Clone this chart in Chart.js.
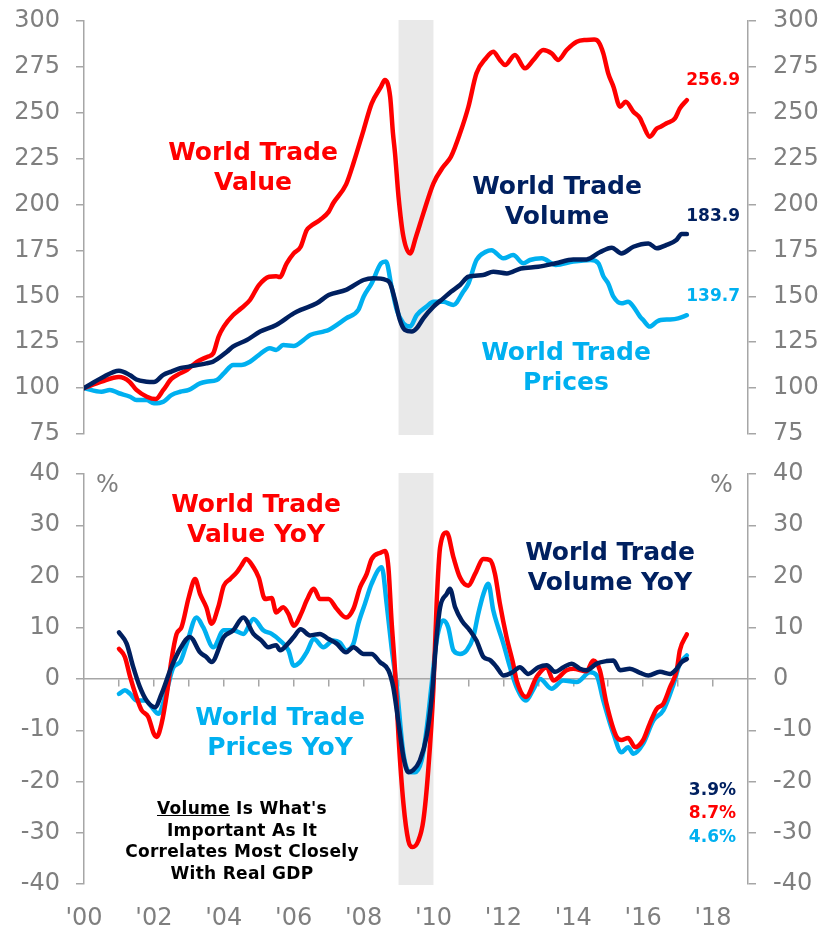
<!DOCTYPE html>
<html>
<head>
<meta charset="utf-8">
<script src="https://cdn.jsdelivr.net/npm/chart.js@4.4.1/dist/chart.umd.min.js"></script>
<style>
  html, body { margin: 0; padding: 0; background: #fff; }
  #wrap { position: relative; width: 825px; height: 930px; font-family: "DejaVu Sans", Verdana, sans-serif; }
  canvas { position: absolute; left: 0; }
  #topChart { top: 0; }
  #botChart { top: 450px; }
  .lbl { position: absolute; font-weight: bold; text-align: center; white-space: nowrap; transform: translateX(-50%); font-size: 25px; line-height: 30px; }
  .num { position: absolute; font-weight: bold; text-align: right; white-space: nowrap; font-size: 17px; line-height: 20px; }
  .pct { position: absolute; color: #7f7f7f; font-size: 24px; line-height: 28px; }
  .note { position: absolute; font-weight: bold; text-align: center; white-space: nowrap; transform: translateX(-50%); font-size: 17px; line-height: 21.7px; letter-spacing: 0.3px; color: #000; }
</style>
</head>
<body>
<div id="wrap">
  <canvas id="topChart" width="825" height="450"></canvas>
  <canvas id="botChart" width="825" height="480"></canvas>

  <div class="lbl" style="left:253px;top:137px;color:#ff0000">World Trade<br>Value</div>
  <div class="lbl" style="left:557px;top:171px;color:#002060">World Trade<br>Volume</div>
  <div class="lbl" style="left:566px;top:337px;color:#00b0f0">World Trade<br>Prices</div>
  <div class="num" style="right:85px;top:69px;color:#ff0000">256.9</div>
  <div class="num" style="right:85px;top:205px;color:#002060">183.9</div>
  <div class="num" style="right:85px;top:285px;color:#00b0f0">139.7</div>

  <div class="pct" style="left:96px;top:470px">%</div>
  <div class="pct" style="left:710px;top:470px">%</div>
  <div class="lbl" style="left:256px;top:489px;color:#ff0000">World Trade<br>Value YoY</div>
  <div class="lbl" style="left:610px;top:537px;color:#002060">World Trade<br>Volume YoY</div>
  <div class="lbl" style="left:280px;top:702px;color:#00b0f0">World Trade<br>Prices YoY</div>
  <div class="num" style="right:89px;top:779px;color:#002060">3.9%</div>
  <div class="num" style="right:89px;top:802px;color:#ff0000">8.7%</div>
  <div class="num" style="right:89px;top:826px;color:#00b0f0">4.6%</div>
  <div class="note" style="left:242px;top:798px"><u>Volume</u> Is What's<br>Important As It<br>Correlates Most Closely<br>With Real GDP</div>
</div>

<script>
const RED = "#ff0000";
const NAVY = "#002060";
const LBLUE = "#00b0f0";
const GREY = "#7f7f7f";
const AXIS = "#a6a6a6";

Chart.defaults.font.family = '"DejaVu Sans", Verdana, sans-serif';

// x axis (decimal years)
const xMin = 2000;
const xMax = 2019;
const recession = [2009, 2010];
const labelYears = [2000, 2002, 2004, 2006, 2008, 2010, 2012, 2014, 2016, 2018];
const yearTicks = [2001, 2002, 2003, 2004, 2005, 2006, 2007, 2008, 2009, 2010, 2011, 2012, 2013, 2014, 2015, 2016, 2017, 2018];
const levelTicks = [75, 100, 125, 150, 175, 200, 225, 250, 275, 300];
const yoyTicks = [-40, -30, -20, -10, 0, 10, 20, 30, 40];

// index levels, Jan 2000 = 100  [year, value]
const valueLevel = [
  [2000.0,100],[2000.5,103.5],[2001.0,106],[2001.3,103.5],[2001.5,99],[2001.8,95.3],[2002.05,94],[2002.27,99],
  [2002.5,105],[2002.75,108],[2002.95,110],[2003.23,114.3],[2003.52,117],[2003.7,119],[2003.85,128],[2004.0,133.5],
  [2004.27,139.8],[2004.5,143.5],[2004.75,148],[2005.0,156],[2005.3,160.7],[2005.5,161],[2005.6,160.5],[2005.8,168],
  [2006.0,173.4],[2006.2,177],[2006.37,186],[2006.47,188],[2006.75,191.6],[2007.0,196],[2007.13,200.7],[2007.5,211],
  [2007.71,222.5],[2008.0,240.6],[2008.23,255],[2008.5,264.2],[2008.61,267.9],[2008.76,258.8],[2008.84,239],[2008.9,227.9],
  [2009.0,204.3],[2009.14,182.5],[2009.33,173.4],[2009.5,182.5],[2009.71,195.2],[2010.0,211.6],[2010.28,220.6],[2010.5,226],
  [2010.76,238.8],[2011.0,253.3],[2011.23,271.5],[2011.5,279.7],[2011.71,283.3],[2011.9,278.8],[2012.05,276],[2012.33,281.5],
  [2012.62,274.2],[2012.86,278.8],[2013.14,284.2],[2013.38,282.4],[2013.57,278.8],[2013.81,284.2],[2014.1,288.7],[2014.38,289.7],
  [2014.6,289.9],[2014.72,288.7],[2014.86,282.4],[2015.0,271.5],[2015.15,264.2],[2015.34,253.3],[2015.5,256],[2015.72,250.6],
  [2015.91,247],[2016.0,243.3],[2016.19,237],[2016.39,241.5],[2016.5,242.4],[2016.67,244.3],[2016.91,247],[2017.05,252.4],
  [2017.25,256.9]
];
const volumeLevel = [
  [2000.0,100],[2000.5,105.5],[2001.0,109.5],[2001.32,107],[2001.5,104.7],[2001.79,103.5],[2002.0,103.3],[2002.27,107.2],
  [2002.5,109],[2002.75,110.8],[2003.0,111.7],[2003.5,113.5],[2003.69,114.4],[2004.09,119.8],[2004.26,122.6],[2004.66,126.2],
  [2005.04,130.8],[2005.5,134.4],[2006.0,140.7],[2006.2,142.6],[2006.66,146.2],[2007.0,150.7],[2007.5,153.5],[2008.0,158.9],
  [2008.28,159.8],[2008.64,158.9],[2008.76,157],[2008.9,148],[2009.04,137.1],[2009.18,131.7],[2009.38,130.8],[2009.52,132.6],
  [2009.71,138],[2010.0,144.4],[2010.28,148.9],[2010.5,152.5],[2010.76,156.2],[2011.0,160.7],[2011.42,161.6],[2011.71,163.4],
  [2012.1,162.5],[2012.5,165.2],[2013.0,166.1],[2013.5,168],[2014.0,170],[2014.38,170.1],[2014.76,174],[2015.1,176.5],
  [2015.38,173.4],[2015.72,177],[2016.15,178.8],[2016.39,176.2],[2016.67,178],[2016.95,180.7],[2017.1,184],[2017.25,183.9]
];
const pricesLevel = [
  [2000.0,100],[2000.5,98],[2000.74,99],[2001.0,97.2],[2001.32,95.3],[2001.5,93.5],[2001.79,93.5],[2002.0,91.7],
  [2002.27,92.6],[2002.5,96.2],[2002.75,98],[2003.0,99],[2003.32,102.6],[2003.5,103.5],[2003.8,104.4],[2004.0,108],
  [2004.27,112.6],[2004.5,112.6],[2004.75,114.4],[2005.0,118],[2005.32,121.7],[2005.5,120.8],[2005.7,123.5],[2006.0,123],
  [2006.28,126.2],[2006.47,128.9],[2006.85,130.8],[2007.0,131.7],[2007.5,138],[2007.85,142.6],[2008.0,149.8],[2008.23,157],
  [2008.5,168],[2008.64,169],[2008.8,155.3],[2008.95,142.6],[2009.14,135.3],[2009.33,133.5],[2009.52,139.8],[2009.8,144.4],
  [2010.0,147],[2010.28,147],[2010.57,145.3],[2010.85,152.5],[2011.0,157],[2011.23,169.8],[2011.5,174.3],[2011.66,175.1],
  [2012.0,170.7],[2012.28,172.5],[2012.57,168],[2012.76,169.8],[2013.1,170.7],[2013.5,167.1],[2014.0,168.9],[2014.5,169.8],
  [2014.72,168],[2014.86,161],[2015.0,157],[2015.15,149.8],[2015.38,146.2],[2015.57,147],[2015.72,144.4],[2015.91,139],
  [2016.0,137.1],[2016.19,133.5],[2016.39,136.2],[2016.5,137.1],[2016.77,137.4],[2017.0,138],[2017.25,139.7]
];

// year-over-year % change  [year, value]
const valueYoY = [
  [2001.0,5.9],[2001.17,4.3],[2001.32,0.4],[2001.5,-3.5],[2001.65,-6.1],[2001.84,-7.4],[2002.0,-10.7],[2002.08,-11.3],
  [2002.22,-8.7],[2002.37,-2.9],[2002.5,3.6],[2002.65,8.8],[2002.79,10.1],[2003.0,16],[2003.18,19.5],[2003.32,16.6],
  [2003.5,14],[2003.65,10.8],[2003.84,14],[2004.0,18.2],[2004.18,19.5],[2004.37,20.8],[2004.5,22.1],[2004.64,23.4],
  [2004.85,21.8],[2005.0,19.8],[2005.18,15.6],[2005.37,15.8],[2005.5,13],[2005.7,14],[2005.85,12.7],[2006.0,10.4],
  [2006.23,13],[2006.37,15.3],[2006.58,17.6],[2006.75,15.6],[2007.0,15.6],[2007.23,13.7],[2007.5,12],[2007.71,13.7],
  [2007.9,17.9],[2008.09,20.5],[2008.23,23.4],[2008.5,24.7],[2008.61,25],[2008.71,21.8],[2008.8,11.4],[2008.9,1.7],
  [2009.0,-11.3],[2009.14,-24.3],[2009.28,-31.5],[2009.4,-32.8],[2009.57,-31.5],[2009.71,-27.6],[2009.85,-17.8],[2010.0,-1.6],
  [2010.09,14.7],[2010.19,25.7],[2010.38,28.6],[2010.57,23.8],[2010.76,19.8],[2011.0,18.2],[2011.19,20.5],[2011.43,23.4],
  [2011.62,23.2],[2011.76,20.5],[2011.9,14.7],[2012.09,8.2],[2012.28,3],[2012.38,-0.3],[2012.65,-3.5],[2012.95,0.4],
  [2013.24,2.3],[2013.43,-0.3],[2013.81,1.7],[2014.0,2],[2014.38,1.5],[2014.57,3.6],[2014.76,1.7],[2014.95,-4.8],
  [2015.24,-11.3],[2015.38,-11.9],[2015.57,-11.5],[2015.77,-13.3],[2016.0,-11.9],[2016.19,-8.7],[2016.39,-5.8],[2016.58,-4.8],
  [2016.77,-1.6],[2016.96,1.7],[2017.05,5.6],[2017.25,8.7]
];
const volumeYoY = [
  [2001.0,9.1],[2001.22,6.9],[2001.41,2.3],[2001.6,-1.6],[2001.79,-4.2],[2002.03,-5.5],[2002.22,-2.9],[2002.5,2.3],
  [2002.75,5.9],[2003.03,8.2],[2003.32,5.2],[2003.5,4.3],[2003.65,3.3],[2004.0,8.2],[2004.27,9.5],[2004.56,12],
  [2004.85,8.8],[2005.08,7.5],[2005.27,6.2],[2005.5,6.6],[2005.61,5.6],[2005.85,7],[2006.0,8.2],[2006.2,9.7],
  [2006.47,8.5],[2006.75,8.8],[2007.0,7.8],[2007.23,6.9],[2007.5,5.2],[2007.71,6.2],[2008.0,4.9],[2008.23,4.9],
  [2008.47,3.3],[2008.71,1.7],[2008.85,-1.6],[2008.99,-8.1],[2009.14,-15.2],[2009.28,-18.2],[2009.42,-17.8],[2009.61,-15.9],
  [2009.8,-11.3],[2009.95,-3.5],[2010.09,8.2],[2010.19,14],[2010.38,16.6],[2010.47,17.6],[2010.62,14],[2010.81,11.4],
  [2011.04,9.5],[2011.23,7.5],[2011.43,4.3],[2011.62,3.7],[2011.81,2.3],[2012.0,0.7],[2012.28,1.4],[2012.47,2.3],
  [2012.71,1],[2013.0,2.3],[2013.24,2.7],[2013.48,1.4],[2013.72,2.3],[2013.95,3],[2014.19,2],[2014.38,1.7],
  [2014.67,3],[2014.95,3.5],[2015.15,3.6],[2015.34,1.7],[2015.62,2],[2015.91,1.2],[2016.15,0.7],[2016.48,1.4],
  [2016.77,1],[2016.96,2],[2017.1,3.3],[2017.25,3.9]
];
const pricesYoY = [
  [2001.0,-2.9],[2001.17,-2.2],[2001.32,-2.9],[2001.51,-4.2],[2001.75,-4.2],[2001.94,-5.5],[2002.13,-6.8],[2002.32,-3.5],
  [2002.56,2.3],[2002.75,3.3],[2002.94,6.9],[2003.22,12],[2003.41,10.1],[2003.7,6.2],[2004.0,9.5],[2004.27,9.5],
  [2004.56,8.8],[2004.85,11.7],[2005.13,9.5],[2005.37,8.8],[2005.61,7.5],[2005.85,5.6],[2006.0,2.6],[2006.18,3.3],
  [2006.37,5.2],[2006.58,7.8],[2006.85,6.2],[2007.13,7.5],[2007.32,7.1],[2007.5,5.6],[2007.71,6.9],[2007.85,10.8],
  [2008.04,14.7],[2008.23,18.6],[2008.52,21.8],[2008.66,14.7],[2008.8,6.2],[2008.95,-1.6],[2009.14,-14.6],[2009.33,-18.2],
  [2009.47,-18.2],[2009.66,-15.9],[2009.8,-10],[2009.95,-0.9],[2010.09,7.5],[2010.28,11.4],[2010.42,10.1],[2010.57,5.6],
  [2010.76,4.9],[2010.95,5.6],[2011.14,8.2],[2011.28,12.7],[2011.43,16.6],[2011.57,18.6],[2011.71,13.4],[2011.85,10.1],
  [2012.0,6.9],[2012.19,2.3],[2012.38,-1.6],[2012.65,-4.2],[2012.86,-2],[2013.05,0],[2013.38,-1.9],[2013.71,-0.3],
  [2014.1,-0.6],[2014.48,1.3],[2014.67,0.7],[2014.86,-4.2],[2015.15,-10.7],[2015.38,-14.3],[2015.57,-13.3],[2015.72,-14.6],
  [2016.0,-12.6],[2016.29,-8.1],[2016.58,-6.1],[2016.86,-1.2],[2017.05,3],[2017.25,4.6]
];

const toPts = (arr) => arr.map(([x, y]) => ({ x, y }));

function lineSet(data, color, order) {
  return {
    data: toPts(data),
    borderColor: color,
    borderWidth: 4.5,
    pointRadius: 0,
    fill: false,
    cubicInterpolationMode: "monotone",
    borderJoinStyle: "round",
    borderCapStyle: "round",
    order,
  };
}

// grey band for the 2009 recession, drawn under axes and lines
const shadeBand = {
  id: "shadeBand",
  beforeDraw(chart) {
    const { ctx, chartArea, scales } = chart;
    const x0 = scales.x.getPixelForValue(recession[0]);
    const x1 = scales.x.getPixelForValue(recession[1]);
    ctx.save();
    ctx.fillStyle = "#e9e9e9";
    ctx.fillRect(x0, chartArea.top - 1, x1 - x0, chartArea.bottom - chartArea.top + 2);
    ctx.restore();
  },
};

function yAxis(position, ticks, min, max) {
  return {
    type: "linear",
    position,
    min,
    max,
    afterBuildTicks: (s) => { s.ticks = ticks.map((v) => ({ value: v })); },
    afterFit: (s) => {
      s.width = position === "left" ? 84 : 77;
      // let layout padding alone decide the plot's top and bottom
      s.paddingTop = 0;
      s.paddingBottom = 0;
    },
    grid: { drawOnChartArea: false, tickLength: 8, color: AXIS, lineWidth: 1.5 },
    border: { color: AXIS, width: 1.5 },
    ticks: { color: GREY, font: { size: 24 }, padding: position === "left" ? 16 : 17 },
  };
}

const baseOptions = {
  responsive: false,
  animation: false,
  events: [],
  plugins: { legend: { display: false }, tooltip: { enabled: false } },
};

new Chart(document.getElementById("topChart"), {
  type: "line",
  data: {
    datasets: [
      lineSet(volumeLevel, NAVY, 0),
      lineSet(valueLevel, RED, 1),
      lineSet(pricesLevel, LBLUE, 2),
    ],
  },
  options: {
    ...baseOptions,
    layout: { padding: { top: 21, bottom: 16, left: 0, right: 0 } },
    scales: {
      x: { type: "linear", min: xMin, max: xMax, display: false },
      y: yAxis("left", levelTicks, 75, 300),
      y2: yAxis("right", levelTicks, 75, 300),
    },
  },
  plugins: [shadeBand],
});

new Chart(document.getElementById("botChart"), {
  type: "line",
  data: {
    datasets: [
      lineSet(volumeYoY, NAVY, 0),
      lineSet(valueYoY, RED, 1),
      lineSet(pricesYoY, LBLUE, 2),
    ],
  },
  options: {
    ...baseOptions,
    layout: { padding: { top: 24, bottom: 0, left: 0, right: 0 } },
    scales: {
      x: {
        type: "linear",
        position: "bottom",
        min: xMin,
        max: xMax,
        afterBuildTicks: (s) => { s.ticks = labelYears.map((v) => ({ value: v })); },
        afterFit: (s) => { s.height = 46; },
        grid: { display: false, drawTicks: false },
        border: { display: false },
        ticks: {
          color: GREY,
          font: { size: 24 },
          padding: 20,
          autoSkip: false,
          maxRotation: 0,
          callback: (v) => "'" + String(v).slice(2),
        },
      },
      xZero: {
        type: "linear",
        axis: "x",
        position: { y: 0 },
        min: xMin,
        max: xMax,
        afterBuildTicks: (s) => { s.ticks = yearTicks.map((v) => ({ value: v })); },
        grid: { drawOnChartArea: false, tickLength: 7, color: AXIS, lineWidth: 1.5 },
        border: { color: AXIS, width: 1.5 },
        ticks: { display: false },
      },
      y: yAxis("left", yoyTicks, -40, 40),
      y2: yAxis("right", yoyTicks, -40, 40),
    },
  },
  plugins: [shadeBand],
});
</script>
</body>
</html>
